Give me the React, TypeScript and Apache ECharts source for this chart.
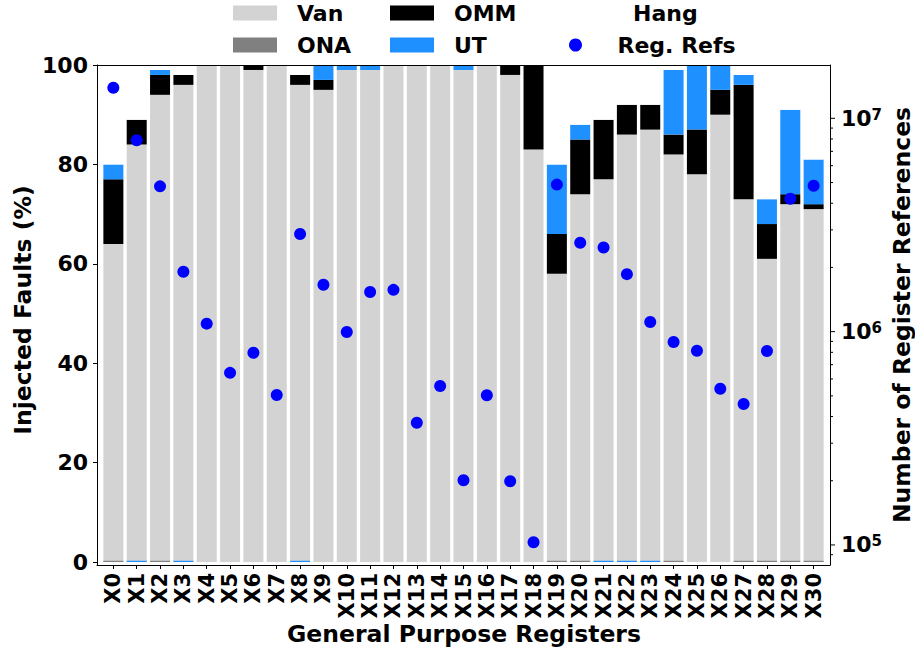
import React, { useEffect, useRef } from 'react';
import * as echarts from 'echarts';

const categories = ['X0','X1','X2','X3','X4','X5','X6','X7','X8','X9','X10','X11','X12','X13','X14','X15','X16','X17','X18','X19','X20','X21','X22','X23','X24','X25','X26','X27','X28','X29','X30'];

// stacked percentages (bottom -> top)
const van = [64,84,94,96,100,100,99,100,96,95,99,99,100,100,100,99,100,98,83,58,74,77,86,87,82,78,90,73,61,72,71];
const omm = [13,5,4,2,0,0,1,0,2,2,0,0,0,0,0,0,0,2,17,8,11,12,6,5,4,9,5,23,7,2,1];
const ut = [3,0,1,0,0,0,0,0,0,3,1,1,0,0,0,1,0,0,0,14,3,0,0,0,13,13,5,2,5,17,9];
const hang = [20,11,1,2,0,0,0,0,2,0,0,0,0,0,0,0,0,0,0,20,12,11,8,8,1,0,0,2,27,9,19];
// tiny marks visible at the base of some bars
const ona = [0.25,0,0.25,0,0,0,0,0,0,0,0,0,0,0,0,0,0,0,0,0.25,0.25,0,0,0,0.25,0,0,0.25,0.25,0.25,0.25];
const utBase = [0,0.25,0,0.25,0,0,0,0,0.25,0,0,0,0,0,0,0,0,0,0,0,0,0.25,0.25,0.25,0,0,0,0,0,0,0];

// number of register references (log axis)
const regRefs = [1.39e7,7.89e6,4.80e6,1.91e6,1.09e6,6.41e5,7.96e5,5.05e5,2.87e6,1.66e6,9.96e5,1.535e6,1.57e6,3.74e5,5.56e5,2.01e5,5.03e5,1.99e5,1.03e5,4.89e6,2.61e6,2.48e6,1.86e6,1.11e6,8.94e5,8.13e5,5.40e5,4.58e5,8.11e5,4.20e6,4.83e6];

const leftTicks = [0,20,40,60,80,100];
const rightMajorTicks = [1e5,1e6,1e7];
const rightMinorTicks = [9e4,2e5,3e5,4e5,5e5,6e5,7e5,8e5,9e5,2e6,3e6,4e6,5e6,6e6,7e6,8e6,9e6];

const FONT = 'DejaVu Sans';

export default function App() {
  const ref = useRef<HTMLDivElement>(null);
  useEffect(() => {
    const chart = echarts.init(ref.current!, null, { renderer: 'svg' });
    const idx = categories.map((_, i) => i);
    const pairs = (arr: number[]) => arr.map((v, i) => [i, v]);
    const lineStyle = { color: '#000', width: 1 };
    const barBase = { type: 'bar', xAxisIndex: 2, yAxisIndex: 2, barWidth: 20, barGap: '-100%' };
    const tickSeries = (name: string, values: number[], len: number) => ({
      type: 'custom', name, xAxisIndex: 0, yAxisIndex: 1, silent: true, z: 10, clip: false,
      data: values.map((v) => [0, v]),
      renderItem: (params: any, api: any) => {
        const p = api.coord([0, api.value(1)]);
        const cs = params.coordSys;
        const x = cs.x + cs.width;
        return { type: 'line', shape: { x1: x, y1: p[1], x2: x + len, y2: p[1] }, style: { stroke: '#000', lineWidth: 1 } };
      },
    });
    const legendBase = {
      orient: 'horizontal', padding: 0, itemWidth: 44, itemHeight: 15, itemGap: 0, selectedMode: false,
      textStyle: { fontFamily: FONT, fontWeight: 'bold', fontSize: 22, color: '#000', padding: [0, 0, 0, 15] },
    };
    const titleStyle = (text: string) => ({
      text, fontFamily: FONT, fontWeight: 'bold', fontSize: 23.5, fill: '#000',
      align: 'center', verticalAlign: 'middle', textAlign: 'center', textVerticalAlign: 'middle',
    });
    const option: any = {
      animation: false,
      grid: [
        { left: 97, top: 65, width: 733, height: 500, containLabel: false, outerBoundsMode: 'none' },
        { left: 101.7, top: 65, width: 723.6, height: 500, containLabel: false, outerBoundsMode: 'none' },
      ],
      legend: [
        { ...legendBase, data: [{ name: 'Van', icon: 'rect' }], left: 233, top: 2 },
        { ...legendBase, data: [{ name: 'OMM', icon: 'rect' }], left: 390, top: 2 },
        { ...legendBase, data: [{ name: 'Hang', icon: 'rect' }], left: 569, top: 2 },
        { ...legendBase, data: [{ name: 'ONA', icon: 'rect' }], left: 233, top: 34 },
        { ...legendBase, data: [{ name: 'UT', icon: 'rect' }], left: 390, top: 34 },
        { ...legendBase, itemHeight: 13, data: [{ name: 'Reg. Refs', icon: 'circle' }], left: 569, top: 34 },
      ],
      xAxis: [
        {
          type: 'value', gridIndex: 0, min: -0.7, max: 30.7, position: 'bottom', z: 10,
          axisLine: { show: true, onZero: false, lineStyle },
          axisTick: { show: true, customValues: idx, length: 4, lineStyle },
          axisLabel: {
            customValues: idx, rotate: 90, margin: 8,
            formatter: (v: number) => categories[Math.round(v)] ?? '',
            fontFamily: FONT, fontWeight: 'bold', fontSize: 21, color: '#000',
          },
          splitLine: { show: false },
        },
        {
          type: 'value', gridIndex: 0, min: -0.7, max: 30.7, position: 'top', z: 10,
          axisLine: { show: true, onZero: false, lineStyle },
          axisTick: { show: false }, axisLabel: { show: false }, splitLine: { show: false },
        },
        {
          type: 'category', gridIndex: 1, data: categories, boundaryGap: true, show: false,
        },
      ],
      yAxis: [
        {
          type: 'value', gridIndex: 0, min: -0.6, max: 100, position: 'left', z: 10,
          axisLine: { show: true, onZero: false, lineStyle },
          axisTick: { show: true, customValues: leftTicks, length: 4, lineStyle },
          axisLabel: { customValues: leftTicks, margin: 9, fontFamily: FONT, fontWeight: 'bold', fontSize: 22, color: '#000' },
          splitLine: { show: false },
        },
        {
          type: 'log', gridIndex: 0, logBase: 10, min: 80538, max: 17782794, position: 'right', z: 10,
          axisLine: { show: true, onZero: false, lineStyle },
          axisTick: { show: false },
          minorTick: { show: false },
          axisLabel: {
            margin: 11, showMinLabel: false, showMaxLabel: false,
            formatter: (v: number) => {
              const e = Math.log10(v);
              if (Math.abs(e - Math.round(e)) > 1e-6) return '';
              return `{b|10}{s|${Math.round(e)}}`;
            },
            rich: {
              b: { fontFamily: FONT, fontWeight: 'bold', fontSize: 22, color: '#000' },
              s: { fontFamily: FONT, fontWeight: 'bold', fontSize: 15, color: '#000', verticalAlign: 'top' },
            },
          },
          splitLine: { show: false },
        },
        {
          type: 'value', gridIndex: 1, min: -0.6, max: 100, show: false, splitLine: { show: false },
        },
      ],
      series: [
        { ...barBase, name: 'Van', stack: 'main', data: van, itemStyle: { color: '#d3d3d3' } },
        { ...barBase, name: 'OMM', stack: 'main', data: omm, itemStyle: { color: '#000000' } },
        { ...barBase, name: 'UT', stack: 'main', data: ut, itemStyle: { color: '#1e90ff' } },
        { ...barBase, name: 'Hang', stack: 'main', data: hang, itemStyle: { color: '#ffffff' } },
        { ...barBase, name: 'ONA', stack: 'onaBase', data: ona, itemStyle: { color: '#808080' } },
        { ...barBase, name: 'UT base', stack: 'utBase', data: utBase, itemStyle: { color: '#1e90ff' } },
        {
          type: 'scatter', name: 'Reg. Refs', xAxisIndex: 0, yAxisIndex: 1, z: 5,
          symbol: 'circle', symbolSize: 12, data: pairs(regRefs), itemStyle: { color: '#0000ff', opacity: 1 },
        },
        tickSeries('major ticks', rightMajorTicks, 5),
        tickSeries('minor ticks', rightMinorTicks, 3),
      ],
      graphic: [
        { type: 'text', x: 464, y: 634, style: titleStyle('General Purpose Registers') },
        { type: 'text', x: 23, y: 310, rotation: Math.PI / 2, style: titleStyle('Injected Faults (%)') },
        { type: 'text', x: 902, y: 315, rotation: Math.PI / 2, style: titleStyle('Number of Register References') },
      ],
    };
    chart.setOption(option);
    return () => chart.dispose();
  }, []);
  return <div ref={ref} style={{ position: 'absolute', left: 0, top: 0, width: 915, height: 652 }} />;
}
